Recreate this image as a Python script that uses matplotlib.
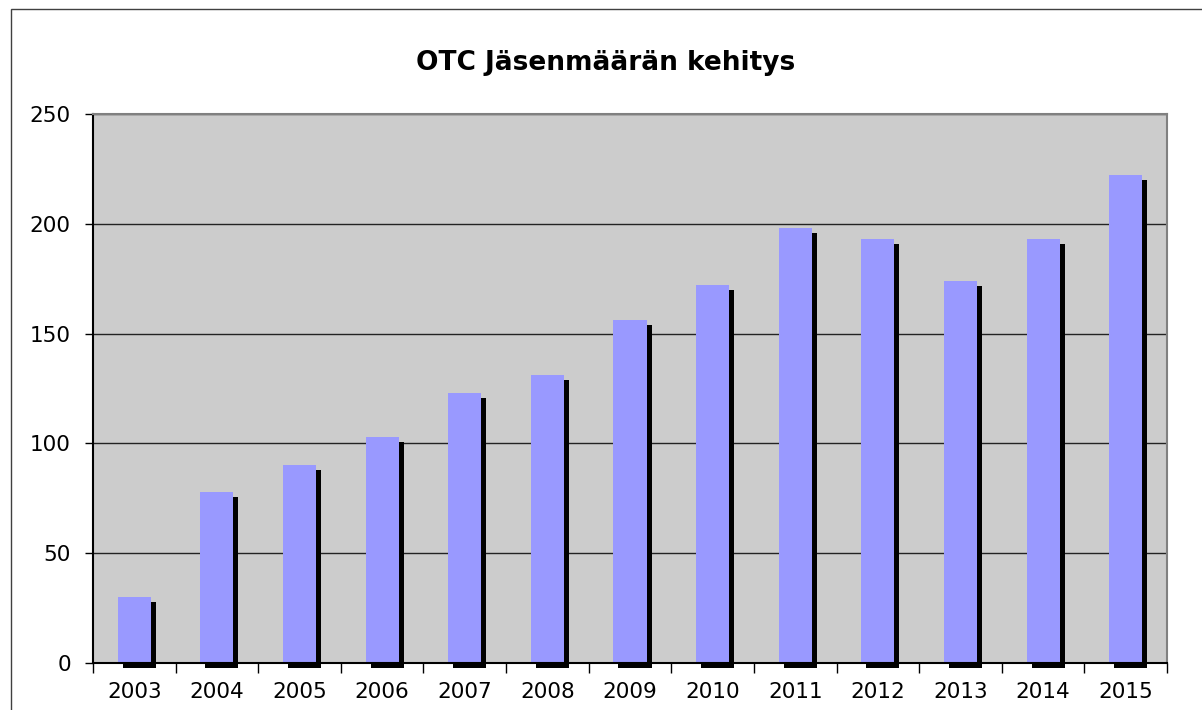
import matplotlib
matplotlib.use('Agg')
import matplotlib.pyplot as plt
import matplotlib.transforms as mtransforms
from matplotlib.patches import Rectangle

# data
years = ['2003', '2004', '2005', '2006', '2007', '2008', '2009',
         '2010', '2011', '2012', '2013', '2014', '2015']
members = [30, 78, 90, 103, 123, 131, 156, 172, 198, 193, 174, 193, 222]

W, H = 1202, 710
fig = plt.figure(figsize=(W / 100, H / 100), dpi=100)
plt.rcParams['font.family'] = 'DejaVu Sans'

# outer chart border (only left/top visible in the picture)
fig.patches.append(Rectangle((11 / W, -0.1), 1.2, 1 - 9 / H + 0.1,
                             transform=fig.transFigure, fill=False,
                             edgecolor='#404040', linewidth=1.0))

ax = fig.add_axes([93 / W, (H - 663) / H, (1167 - 93) / W, (663 - 114) / H])
ax.set_facecolor('#cccccc')

x = list(range(len(years)))
shadow = ax.transData + mtransforms.ScaledTranslation(5 / 100, -5 / 100, fig.dpi_scale_trans)
ax.bar(x, members, width=0.4, color='black', transform=shadow, zorder=2, clip_on=False)
ax.bar(x, members, width=0.4, color='#9999ff', zorder=3)

ax.set_xlim(-0.5, len(years) - 0.5)
ax.set_ylim(0, 250)
ax.set_yticks(range(0, 251, 50))
ax.yaxis.grid(True, color='#222222', linewidth=1.0, zorder=1)
ax.set_axisbelow(True)

# x ticks between categories, labels centred
ax.set_xticks([i - 0.5 for i in range(len(years) + 1)])
ax.set_xticklabels([])
ax.set_xticks(x, minor=True)
ax.set_xticklabels(years, minor=True)
ax.tick_params(axis='x', which='minor', length=0, pad=14, labelsize=15.5)
ax.tick_params(axis='x', which='major', length=7, width=1, direction='out')
ax.tick_params(axis='y', length=6, width=1, direction='out', pad=10, labelsize=15.5)

ax.spines['left'].set_color('black')
ax.spines['bottom'].set_color('black')
ax.spines['top'].set_color('#808080')
ax.spines['right'].set_color('#808080')
for s in ax.spines.values():
    s.set_linewidth(1.5)
    s.set_zorder(4)

fig.text((417 + 795) / 2 / W, 1 - 63 / H, 'OTC Jäsenmäärän kehitys',
         ha='center', va='center', fontsize=19, fontweight='bold')

fig.savefig('out.png', dpi=100)
